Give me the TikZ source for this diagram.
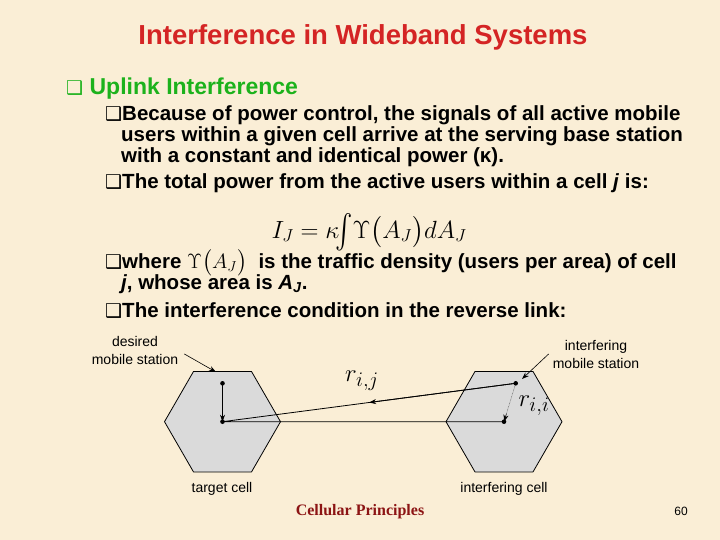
\documentclass[tikz,border=0pt]{standalone}
\usepackage{amsmath,amssymb}
\usepackage{xcolor}
\usepackage{fontspec}
\setmainfont{Liberation Serif}
\setsansfont{Liberation Sans}
\newfontfamily\boxfont{DejaVu Sans}
\usetikzlibrary{calc,arrows.meta,shapes.geometric}
\definecolor{parchment}{RGB}{250,238,214}
\definecolor{titlered}{RGB}{212,36,36}
\definecolor{uplinkgreen}{RGB}{28,178,28}
\definecolor{footred}{RGB}{140,20,20}
\definecolor{cellgray}{RGB}{218,218,218}
\newcommand{\bx}{{\boxfont\fontsize{19}{19}\selectfont\char"2751}}

\tikzset{
  body/.style={font=\sffamily\bfseries\fontsize{20.5}{22}\selectfont, anchor=base west, inner sep=0pt},
  lbl/.style={font=\sffamily\fontsize{14}{18}\selectfont, align=center, inner sep=0pt},
  cell/.style={regular polygon, regular polygon sides=6, minimum size=116pt, inner sep=0pt,
    draw, line width=0.8pt, fill=cellgray},
  rlab/.style={font=\fontsize{30}{30}\selectfont, inner sep=0pt}
}

\begin{document}
\begin{tikzpicture}[x=1pt,y=-1pt,line join=round, line cap=round, >={Stealth[length=7pt,width=5pt]}]
\fill[parchment] (0,0) rectangle (720,540);
\useasboundingbox (0,0) rectangle (720,540);

\node[font=\sffamily\bfseries\fontsize{27.5}{30}\selectfont, text=titlered, anchor=base, inner sep=0pt]
	(title) at (363,45) {Interference in Wideband Systems};
\node[body, text=uplinkgreen, font=\sffamily\bfseries\fontsize{23}{25}\selectfont]
	(uplink) at (66,95) {\bx\ Uplink Interference};

\node[body] (b1) at (105,121) {\bx Because of power control, the signals of all active mobile};
\node[body] (b1b) at (121,142) {users within a given cell arrive at the serving base station};
\node[body] (b1c) at (121,163) {with a constant and identical power (κ).};
\node[body] (b2) at (105,189) {\bx The total power from the active users within a cell \textit{j} is:};
\node[anchor=base, inner sep=0pt, font=\fontsize{26}{28}\selectfont]
	(formula) at (369,238) {$I_J=\kappa\!\vcenter{\hbox{\scalebox{1}[1.3]{$\int$}}}\Upsilon\bigl(A_J\bigr)dA_J$};
\node[body] (b3) at (105,268) {\bx where {\fontsize{22}{22}\selectfont$\Upsilon\bigl(A_J\bigr)$}\ \ is the traffic density (users per area) of cell};
\node[body] (b3b) at (121,289) {\textit{j}, whose area is \textit{A}\textsubscript{\textit{J}}.};
\node[body] (b4) at (105,317) {\bx The interference condition in the reverse link:};

% cells
\node[cell] (tcell) at (222.5,421.7) {};
\node[cell] (icell) at (504,421.7) {};
\coordinate (tbs) at (222.5,421.7);
\coordinate (ibs) at (504,421.7);
\coordinate (dms) at (222.5,383.3);
\coordinate (ims) at (515.7,383.3);

\draw[line width=0.8pt] (tbs) -- (ibs)
	(ims) -- (tbs);
\draw[line width=0.8pt,->] (ims) -- ($(ims)!0.5!(tbs)$);
\draw[line width=0.6pt,->] (dms) -- (tbs);
\draw[line width=0.5pt,black!60,densely dotted] (ims) -- (ibs);
\draw[line width=0.5pt,->] ($(ims)!0.8!(ibs)$) -- (ibs);
\foreach \pt in {tbs,ibs,dms,ims}
	{\fill (\pt) circle (2.3pt);}

\node[rlab] (rij) at (362,381) {$r_{i,j}$};
\node[rlab] (rii) at (534,406) {$r_{i,i}$};

\node[lbl] (dlab) at (135,350) {desired\\mobile station};
\node[lbl] (ilab) at (596,354) {interfering\\mobile station};
\coordinate (dtip) at (216,372);
\coordinate (itip) at (522,379);
\draw[line width=0.6pt,->] ([xshift=6pt,yshift=-4pt]dlab.east) -- (dtip);
\draw[line width=0.6pt,->] ([xshift=-4pt]ilab.west) -- (itip);

\node[lbl] (tlab) at (222,489) {target cell};
\node[lbl] (icl) at (504,489) {interfering cell};

\node[font=\bfseries\fontsize{16}{18}\selectfont, text=footred, inner sep=0pt] (foot) at (360,512) {Cellular Principles};
\node[font=\sffamily\fontsize{12}{14}\selectfont, inner sep=0pt] (pnum) at (681,511) {60};
\end{tikzpicture}
\end{document}
